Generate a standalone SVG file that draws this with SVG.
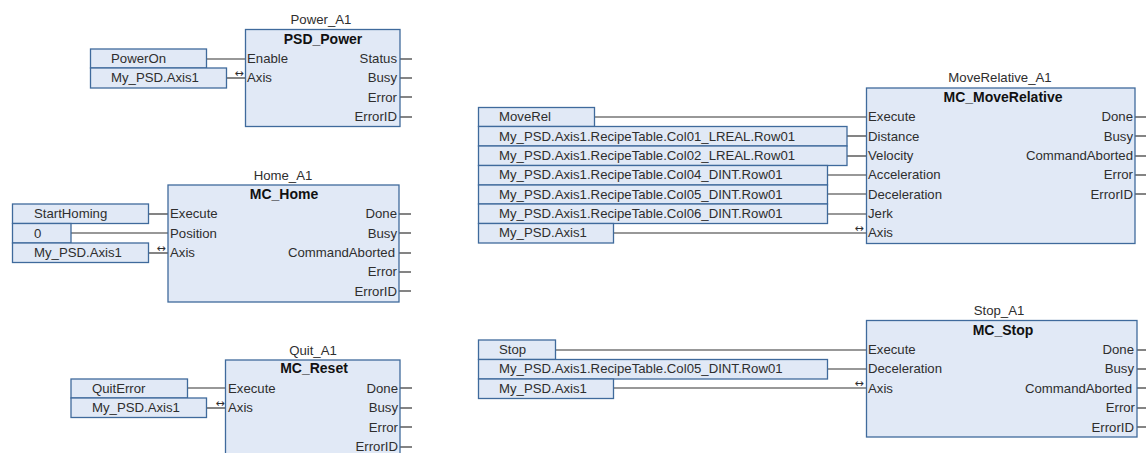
<svg xmlns="http://www.w3.org/2000/svg" width="1146" height="453" viewBox="0 0 1146 453">
<style>
text{font-family:"Liberation Sans",Arial,sans-serif;font-size:13.2px;fill:#2e2e2e}
.b{fill:#e1e9f6;stroke:#3f6a9c;stroke-width:1.3}
.t{text-anchor:middle}
.n{text-anchor:middle;font-weight:bold;font-size:14px;fill:#111}
.r{text-anchor:end}
.a{font-family:"DejaVu Sans",sans-serif;font-size:11px;text-anchor:middle}
#connectors line{stroke:#333;stroke-width:1.2}
</style>
<rect width="1146" height="453" fill="#fff"/>
<g id="connectors">
<line x1="206" y1="59" x2="246" y2="59"/><line x1="226" y1="78" x2="246" y2="78"/>
<line x1="400" y1="59" x2="412" y2="59"/><line x1="400" y1="78" x2="412" y2="78"/><line x1="400" y1="97" x2="412" y2="97"/><line x1="400" y1="117" x2="412" y2="117"/>
<line x1="148" y1="214" x2="168" y2="214"/><line x1="71" y1="233" x2="168" y2="233"/><line x1="148" y1="253" x2="168" y2="253"/>
<line x1="399" y1="214" x2="411" y2="214"/><line x1="399" y1="233" x2="411" y2="233"/><line x1="399" y1="253" x2="411" y2="253"/><line x1="399" y1="272" x2="411" y2="272"/><line x1="399" y1="291" x2="411" y2="291"/>
<line x1="187" y1="388" x2="226" y2="388"/><line x1="206" y1="408" x2="226" y2="408"/>
<line x1="400" y1="388" x2="412" y2="388"/><line x1="400" y1="408" x2="412" y2="408"/><line x1="400" y1="427" x2="412" y2="427"/><line x1="400" y1="447" x2="412" y2="447"/>
<line x1="594" y1="117" x2="866" y2="117"/><line x1="847" y1="136" x2="866" y2="136"/><line x1="847" y1="156" x2="866" y2="156"/><line x1="828" y1="175" x2="866" y2="175"/><line x1="828" y1="194" x2="866" y2="194"/><line x1="828" y1="214" x2="866" y2="214"/><line x1="613" y1="233" x2="866" y2="233"/>
<line x1="1135" y1="117" x2="1146" y2="117"/><line x1="1135" y1="136" x2="1146" y2="136"/><line x1="1135" y1="156" x2="1146" y2="156"/><line x1="1135" y1="175" x2="1146" y2="175"/><line x1="1135" y1="194" x2="1146" y2="194"/>
<line x1="555" y1="350" x2="866" y2="350"/><line x1="828" y1="369" x2="866" y2="369"/><line x1="613" y1="388" x2="866" y2="388"/>
<line x1="1137" y1="350" x2="1146" y2="350"/><line x1="1137" y1="369" x2="1146" y2="369"/><line x1="1137" y1="388" x2="1146" y2="388"/><line x1="1137" y1="408" x2="1146" y2="408"/><line x1="1137" y1="427" x2="1146" y2="427"/>
</g>
<g id="Power_A1">
<rect class="b" x="245.500" y="29.500" width="154.500" height="97"/>
<text class="t" x="321" y="24">Power_A1</text><text class="n" x="323" y="44">PSD_Power</text>
<text x="247" y="63">Enable</text><text x="247" y="82">Axis</text>
<text class="r" x="397" y="63">Status</text><text class="r" x="397" y="82">Busy</text><text class="r" x="397" y="102">Error</text><text class="r" x="397" y="121">ErrorID</text>
<text class="a" x="239" y="77">↔</text>
</g>
<g id="Power_inputs">
<rect class="b" x="90.500" y="49" width="116" height="19"/><text x="111" y="63">PowerOn</text>
<rect class="b" x="90.500" y="68" width="136" height="20"/><text x="111" y="82">My_PSD.Axis1</text>
</g>
<g id="Home_A1">
<rect class="b" x="168" y="185" width="231" height="117"/>
<text class="t" x="283" y="180">Home_A1</text><text class="n" x="284" y="199">MC_Home</text>
<text x="170" y="218">Execute</text><text x="170" y="238">Position</text><text x="170" y="257">Axis</text>
<text class="r" x="397" y="218">Done</text><text class="r" x="397" y="238">Busy</text><text class="r" x="395" y="257">CommandAborted</text><text class="r" x="397" y="276">Error</text><text class="r" x="397" y="296">ErrorID</text>
<text class="a" x="161" y="252">↔</text>
</g>
<g id="Home_inputs">
<rect class="b" x="12.500" y="204" width="136" height="19.500"/><text x="34" y="218">StartHoming</text>
<rect class="b" x="12.500" y="223.500" width="58.500" height="19.500"/><text x="34" y="238">0</text>
<rect class="b" x="12.500" y="243" width="136" height="19.500"/><text x="34" y="257">My_PSD.Axis1</text>
</g>
<g id="Quit_A1">
<rect class="b" x="225.500" y="360" width="174.500" height="100"/>
<text class="t" x="313" y="355">Quit_A1</text><text class="n" x="314" y="373">MC_Reset</text>
<text x="228" y="393">Execute</text><text x="228" y="412">Axis</text>
<text class="r" x="398" y="393">Done</text><text class="r" x="398" y="412">Busy</text><text class="r" x="398" y="432">Error</text><text class="r" x="398" y="451">ErrorID</text>
<text class="a" x="220" y="407">↔</text>
</g>
<g id="Quit_inputs">
<rect class="b" x="71" y="379" width="116.500" height="19"/><text x="92" y="393">QuitError</text>
<rect class="b" x="71" y="398" width="135.500" height="19.500"/><text x="92" y="412">My_PSD.Axis1</text>
</g>
<g id="MoveRelative_A1">
<rect class="b" x="866.500" y="88" width="268.500" height="155.500"/>
<text class="t" x="1000" y="82">MoveRelative_A1</text><text class="n" x="1003" y="102">MC_MoveRelative</text>
<text x="868" y="121">Execute</text><text x="868" y="141">Distance</text><text x="868" y="160">Velocity</text><text x="868" y="179">Acceleration</text><text x="868" y="199">Deceleration</text><text x="868" y="218">Jerk</text><text x="868" y="237">Axis</text>
<text class="r" x="1133" y="121">Done</text><text class="r" x="1133" y="141">Busy</text><text class="r" x="1133" y="160">CommandAborted</text><text class="r" x="1133" y="179">Error</text><text class="r" x="1133" y="199">ErrorID</text>
<text class="a" x="859" y="232">↔</text>
</g>
<g id="MoveRelative_inputs">
<rect class="b" x="478.500" y="107.500" width="116" height="19"/><text x="499" y="121">MoveRel</text>
<rect class="b" x="478.500" y="126.500" width="368.500" height="19.500"/><text x="499" y="141">My_PSD.Axis1.RecipeTable.Col01_LREAL.Row01</text>
<rect class="b" x="478.500" y="146" width="368.500" height="19.500"/><text x="499" y="160">My_PSD.Axis1.RecipeTable.Col02_LREAL.Row01</text>
<rect class="b" x="478.500" y="165.500" width="349" height="19.500"/><text x="499" y="179">My_PSD.Axis1.RecipeTable.Col04_DINT.Row01</text>
<rect class="b" x="478.500" y="185" width="349" height="19"/><text x="499" y="199">My_PSD.Axis1.RecipeTable.Col05_DINT.Row01</text>
<rect class="b" x="478.500" y="204" width="349" height="19.500"/><text x="499" y="218">My_PSD.Axis1.RecipeTable.Col06_DINT.Row01</text>
<rect class="b" x="478.500" y="223.500" width="135" height="19.500"/><text x="499" y="237">My_PSD.Axis1</text>
</g>
<g id="Stop_A1">
<rect class="b" x="866.500" y="320.500" width="270.500" height="116.500"/>
<text class="t" x="999" y="315">Stop_A1</text><text class="n" x="1003" y="335">MC_Stop</text>
<text x="868" y="354">Execute</text><text x="868" y="373">Deceleration</text><text x="868" y="393">Axis</text>
<text class="r" x="1134" y="354">Done</text><text class="r" x="1134" y="373">Busy</text><text class="r" x="1132" y="393">CommandAborted</text><text class="r" x="1135" y="412">Error</text><text class="r" x="1134" y="432">ErrorID</text>
<text class="a" x="859" y="387">↔</text>
</g>
<g id="Stop_inputs">
<rect class="b" x="478.500" y="340" width="77" height="19.500"/><text x="499" y="354">Stop</text>
<rect class="b" x="478.500" y="359.500" width="349" height="19.500"/><text x="499" y="373">My_PSD.Axis1.RecipeTable.Col05_DINT.Row01</text>
<rect class="b" x="478.500" y="379" width="135" height="19.500"/><text x="499" y="393">My_PSD.Axis1</text>
</g>
</svg>
